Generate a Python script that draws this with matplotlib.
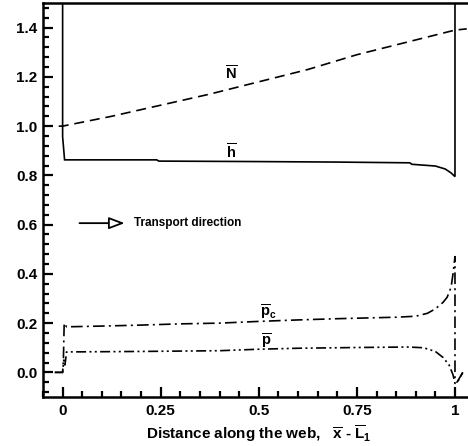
import matplotlib
matplotlib.use("Agg")
import matplotlib.pyplot as plt

plt.rcParams['font.family'] = ['Liberation Sans', 'DejaVu Sans']
plt.rcParams['font.weight'] = 'bold'
plt.rcParams['mathtext.fontset'] = 'custom'
plt.rcParams['mathtext.rm'] = 'Liberation Sans:bold'
plt.rcParams['mathtext.bf'] = 'Liberation Sans:bold'
plt.rcParams['mathtext.it'] = 'Liberation Sans:bold'

# ---- data ----
h_x = [0.0, 0.0, 0.005, 0.24, 0.245, 0.5, 0.7, 0.885, 0.89, 0.95, 0.975, 0.99, 1.0, 1.0]
h_y = [1.5, 0.957, 0.863, 0.863, 0.858, 0.856, 0.854, 0.851, 0.845, 0.838, 0.826, 0.81, 0.795, 1.5]

N_x = [-0.01, 0.0, 0.125, 0.25, 0.375, 0.5, 0.625, 0.75, 0.875, 1.0, 1.03]
N_y = [1.0, 1.0, 1.04, 1.085, 1.13, 1.18, 1.23, 1.29, 1.34, 1.39, 1.395]

pc_x = [-0.02, 0.0, 0.002, 0.004, 0.01, 0.1, 0.2, 0.3, 0.4, 0.5, 0.6, 0.7, 0.8,
        0.85, 0.9, 0.93, 0.95, 0.97, 0.98, 0.99, 0.995, 1.0, 1.0, 1.005, 1.02]
pc_y = [0.0, 0.0, 0.05, 0.2, 0.185, 0.188, 0.192, 0.197, 0.2, 0.207, 0.213, 0.218, 0.222,
        0.224, 0.228, 0.24, 0.258, 0.285, 0.305, 0.345, 0.40, 0.47, -0.03, -0.04, 0.0]

p_x = [-0.02, 0.0, 0.003, 0.006, 0.01, 0.2, 0.4, 0.5, 0.6, 0.75, 0.88, 0.92, 0.95,
       0.97, 0.985, 0.995, 1.0, 1.008, 1.02]
p_y = [0.0, 0.0, 0.05, 0.03, 0.083, 0.085, 0.088, 0.094, 0.098, 0.101, 0.103, 0.10, 0.085,
       0.06, 0.03, -0.01, -0.045, -0.035, 0.0]

x_ticks = [0, 0.25, 0.5, 0.75, 1.0]
x_ticklabels = ["0", "0.25", "0.5", "0.75", "1"]
y_ticks = [0.0, 0.2, 0.4, 0.6, 0.8, 1.0, 1.2, 1.4]
y_ticklabels = ["0.0", "0.2", "0.4", "0.6", "0.8", "1.0", "1.2", "1.4"]

fig = plt.figure(figsize=(4.68, 4.46), dpi=100)
ax = fig.add_axes([43/468, 1-397/446, (474.6-43)/468, (397-3)/446])

lw = 1.2
ax.plot(h_x, h_y, color='black', lw=lw, solid_joinstyle='miter')
ax.plot(N_x, N_y, color='black', lw=lw, linestyle=(0, (6, 3.5)))
ax.plot(pc_x, pc_y, color='black', lw=lw, linestyle=(0, (7, 2.5, 1.2, 2.5)))
ax.plot(p_x, p_y, color='black', lw=lw, linestyle=(0, (6, 2, 1.2, 2, 1.2, 2)))

ax.set_xlim(-0.05, 1.05)
ax.set_ylim(-0.1, 1.5)

ax.set_xticks(x_ticks)
ax.set_xticklabels(x_ticklabels)
ax.set_yticks(y_ticks)
ax.set_yticklabels(y_ticklabels)
ax.set_xticks([-0.05 + 0.05 * i for i in range(23) if i % 5 != 1], minor=True)
ax.set_yticks([-0.08 + 0.04 * i for i in range(40) if (i - 2) % 5 != 0], minor=True)

ax.tick_params(axis='both', which='major', direction='in', length=7, width=1.6,
               labelsize=11, pad=4)
ax.tick_params(axis='both', which='minor', direction='in', length=4.5, width=1.6)
ax.tick_params(axis='x', which='major', pad=5)
for lab in ax.get_xticklabels() + ax.get_yticklabels():
    lab.set_fontweight('bold')

for s in ['left', 'bottom', 'top']:
    ax.spines[s].set_linewidth(1.8)
ax.spines['right'].set_visible(False)

ax.set_xlabel(r"Distance along the web,   $\overline{\mathbf{x}}$ - $\overline{\mathbf{L}}_{\mathbf{1}}$",
              fontsize=11, fontweight='bold', labelpad=4)

ax.text(0.43, 1.215, r"$\overline{\mathbf{N}}$", fontsize=10.5, ha='center', va='center')
ax.text(0.43, 0.895, r"$\overline{\mathbf{h}}$", fontsize=10.5, ha='center', va='center')
ax.text(0.525, 0.245, r"$\overline{\mathbf{p}}_{\mathbf{c}}$", fontsize=10.5, ha='center', va='center')
ax.text(0.52, 0.125, r"$\overline{\mathbf{p}}$", fontsize=10.5, ha='center', va='center')

ax.annotate("", xy=(0.158, 0.606), xytext=(0.043, 0.606),
            arrowprops=dict(arrowstyle='-|>,head_length=0.95,head_width=0.36',
                            edgecolor='black', facecolor='white', lw=1.3,
                            shrinkA=0, shrinkB=0))
ax.text(0.183, 0.606, "Transport direction", fontsize=8.5, fontweight='bold',
        ha='left', va='center')

fig.savefig("out.png", dpi=100)
